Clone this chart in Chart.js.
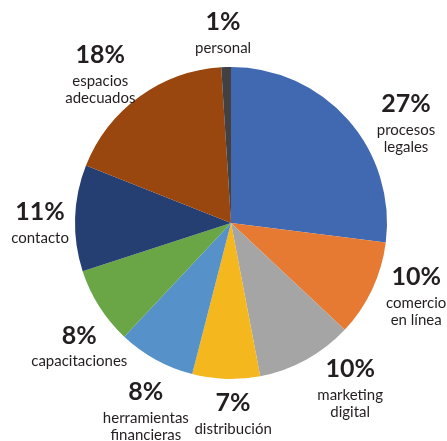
<!DOCTYPE html>
<html>
<head>
<meta charset="utf-8">
<script src="https://cdn.jsdelivr.net/npm/chart.js@4/dist/chart.umd.min.js"></script>
<style>
  html, body { margin: 0; padding: 0; background: #ffffff; }
  #wrap { width: 447px; height: 441px; position: relative; }
</style>
</head>
<body>
<div id="wrap"><canvas id="pie"></canvas></div>
<script>
// Categories (clockwise from the top) and their shares in percent
const categories = [
  ['procesos', 'legales'],
  ['comercio', 'en línea'],
  ['marketing', 'digital'],
  ['distribución'],
  ['herramientas', 'financieras'],
  ['capacitaciones'],
  ['contacto'],
  ['espacios', 'adecuados'],
  ['personal']
];
const shares = [27, 10, 10, 7, 8, 8, 11, 18, 1];
const sliceColors = ['#4169B2', '#E67A32', '#A5A5A5', '#F4B81E', '#5692C9',
                     '#6AA546', '#253F73', '#99460F', '#434041'];

// Where each label block sits, relative to the outer edge of its slice
const labelOffsets = [
  [58, -16], [44, -12], [44, 9], [7, 24], [-10, 32],
  [-20, 29], [-35, -6], [-39, -42], [-3, -45]
];

const TEXT = '#231f20';

const outsideLabels = {
  id: 'outsideLabels',
  afterDatasetsDraw(chart) {
    const ctx = chart.ctx;
    const meta = chart.getDatasetMeta(0);
    ctx.save();
    ctx.textAlign = 'center';
    ctx.textBaseline = 'middle';
    ctx.fillStyle = TEXT;
    meta.data.forEach((arc, i) => {
      const mid = (arc.startAngle + arc.endAngle) / 2;
      const ex = arc.x + Math.cos(mid) * arc.outerRadius;
      const ey = arc.y + Math.sin(mid) * arc.outerRadius;
      const x = ex + labelOffsets[i][0];
      const y = ey + labelOffsets[i][1];
      ctx.font = 'bold 25px Lato';
      ctx.fillText(shares[i] + '%', x, y);
      ctx.font = '15px Lato';
      categories[i].forEach((line, j) => {
        ctx.fillText(line, x, y + 26 + j * 17);
      });
    });
    ctx.restore();
  }
};

new Chart(document.getElementById('pie'), {
  type: 'pie',
  data: {
    labels: categories.map(c => c.join(' ')),
    datasets: [{
      data: shares,
      backgroundColor: sliceColors,
      borderWidth: 0
    }]
  },
  options: {
    responsive: true,
    maintainAspectRatio: false,
    animation: false,
    rotation: 0,
    layout: { padding: { left: 75, right: 60, top: 67, bottom: 62 } },
    plugins: {
      legend: { display: false },
      tooltip: { enabled: false }
    }
  },
  plugins: [outsideLabels]
});
</script>
</body>
</html>
